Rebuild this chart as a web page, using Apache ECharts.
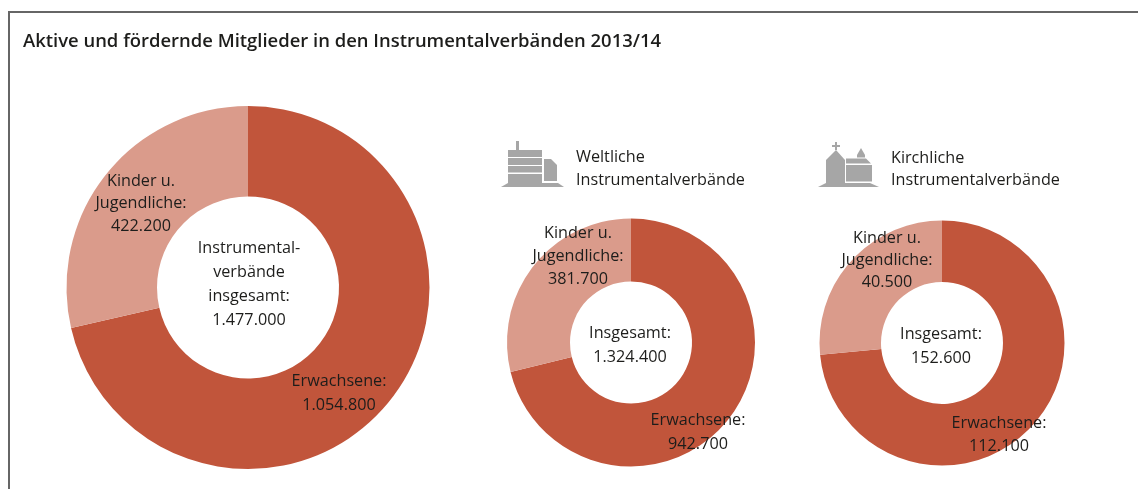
<!DOCTYPE html>
<html><head><meta charset="utf-8">
<style>html,body{margin:0;padding:0;background:#fff}#c{width:1138px;height:489px}</style>
<script src="https://cdn.jsdelivr.net/npm/echarts@6/dist/echarts.min.js"></script>
</head><body><div id="c"></div>
<script>
const categories = ['Erwachsene', 'Kinder u. Jugendliche'];
const gesamtValues = [1054800, 422200];
const weltlichValues = [942700, 381700];
const kirchlichValues = [112100, 40500];
const titleText = 'Aktive und fördernde Mitglieder in den Instrumentalverbänden 2013/14';
const colors = ['#c1553b', '#da9b8b'];
const FONT = 'Open Sans';
const ICON = '#a6a6a6';
const SIZE = 16.2;

function pie(values, center, radius) {
  return { type: 'pie', center, radius, startAngle: 90, clockwise: true, silent: true,
    label: { show: false }, labelLine: { show: false }, animation: false,
    data: categories.map((n, i) => ({ name: n, value: values[i], itemStyle: { color: colors[i] } })) };
}
function lines(arr, cx, y0, lh) {
  return arr.map((t, i) => ({ type: 'text', z: 10, style: { text: t, x: cx, y: y0 + i * lh, align: 'center', verticalAlign: 'middle', font: SIZE + 'px "' + FONT + '"', fill: '#1d1d1b' } }));
}
function leftLines(arr, x, y0, lh) {
  return arr.map((t, i) => ({ type: 'text', z: 10, style: { text: t, x, y: y0 + i * lh, align: 'left', verticalAlign: 'middle', font: SIZE + 'px "' + FONT + '"', fill: '#1d1d1b' } }));
}
function poly(points) { return { type: 'polygon', z: 5, shape: { points }, style: { fill: ICON } }; }
const icon1 = [
  poly([[516,141],[519,141],[519,150],[516,150]]),
  poly([[508,150],[542,150],[542,157],[508,157]]),
  poly([[508,158],[542,158],[542,165],[508,165]]),
  poly([[508,166],[542,166],[542,172.5],[508,172.5]]),
  poly([[508,174],[542,174],[542,183],[508,183]]),
  poly([[544,159],[551,159],[557,165],[557,181],[544,181]]),
  poly([[501,187],[508,183],[558,183],[564,187]])
];
const icon2 = [
  poly([[835,142],[837,142],[837,145],[840,145],[840,147],[837,147],[837,150],[835,150],[835,147],[832,147],[832,145],[835,145]]),
  poly([[836,150],[845,160],[845,183],[826,183],[826,160]]),
  poly([[861,148],[865,155],[865,157.5],[857,157.5],[857,155]]),
  poly([[846,158.5],[866,158.5],[871,163.5],[846,163.5]]),
  poly([[846,165],[872,165],[872,181.5],[846,181.5]]),
  poly([[818,187],[826,183],[870,183],[879,187]])
];
const chart = echarts.init(document.getElementById('c'), null, { renderer: 'canvas' });
chart.setOption({
  animation: false,
  backgroundColor: '#fff',
  series: [
    pie(gesamtValues, [248, 287.5], [91, 181.5]),
    pie(weltlichValues, [631, 342.5], [61, 124]),
    pie(kirchlichValues, [942, 343], [61, 122.5])
  ],
  graphic: [
    { type: 'polyline', z: 4, shape: { points: [[9, 489], [9, 12], [1138, 12]] }, style: { stroke: '#666666', lineWidth: 2, fill: 'none' } },
    { type: 'text', z: 10, style: { text: titleText, x: 23, y: 42, verticalAlign: 'middle', font: '600 18.45px "' + FONT + '"', fill: '#1d1d1b' } },
    ...lines(['Kinder u.', 'Jugendliche:', '422.200'], 141, 181, 22.5),
    ...lines(['Instrumental-', 'verbände', 'insgesamt:', '1.477.000'], 249, 248, 24),
    ...lines(['Erwachsene:', '1.054.800'], 339, 381, 24),
    ...leftLines(['Weltliche', 'Instrumentalverbände'], 576, 157, 23),
    ...lines(['Kinder u.', 'Jugendliche:', '381.700'], 578, 233, 23),
    ...lines(['Insgesamt:', '1.324.400'], 630, 333, 24),
    ...lines(['Erwachsene:', '942.700'], 698, 420, 24),
    ...leftLines(['Kirchliche', 'Instrumentalverbände'], 891, 158, 22),
    ...lines(['Kinder u.', 'Jugendliche:', '40.500'], 887, 238, 22),
    ...lines(['Insgesamt:', '152.600'], 941, 334, 24),
    ...lines(['Erwachsene:', '112.100'], 999, 423, 23),
    ...icon1, ...icon2
  ]
});
</script></body></html>
